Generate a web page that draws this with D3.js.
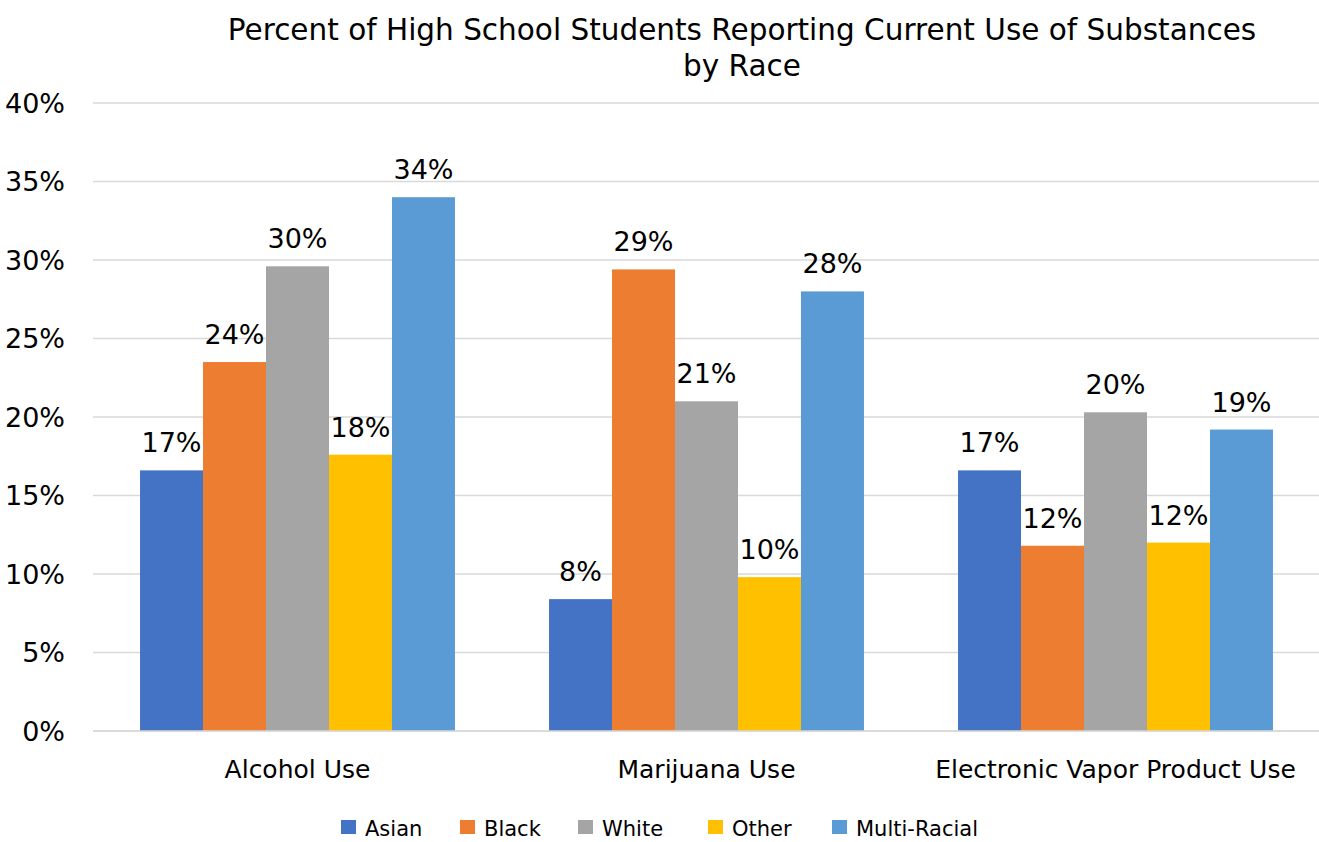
<!DOCTYPE html>
<html>
<head>
<meta charset="utf-8">
<script src="https://cdn.jsdelivr.net/npm/d3@7"></script>
<style>
  body { margin: 0; background: #fff; }
  svg text { font-family: "DejaVu Sans", sans-serif; fill: #000; }
</style>
</head>
<body>
<svg id="chart" width="1319" height="842"></svg>
<script>
// data
var categories = ['Alcohol Use', 'Marijuana Use', 'Electronic Vapor Product Use'];
var races = ['Asian', 'Black', 'White', 'Other', 'Multi-Racial'];
var asian = [16.6, 8.4, 16.6];
var black = [23.5, 29.4, 11.8];
var white = [29.6, 21.0, 20.3];
var other = [17.6, 9.8, 12.0];
var multi = [34.0, 28.0, 19.2];
var yTicks = [0, 5, 10, 15, 20, 25, 30, 35, 40];

var colors = ['#4472C4', '#ED7D31', '#A5A5A5', '#FFC000', '#5B9BD5'];
var seriesVals = [asian, black, white, other, multi];

const svg = d3.select('#chart');
const plotLeft = 93, plotRight = 1320, plotTop = 103, plotBottom = 731;

const x0 = d3.scaleBand().domain(categories).range([plotLeft, plotRight]).paddingInner(0.23).paddingOuter(0.115);
const x1 = d3.scaleBand().domain(races).range([0, x0.bandwidth()]);
const y = d3.scaleLinear().domain([0, 40]).range([plotBottom, plotTop]);
const color = d3.scaleOrdinal().domain(races).range(colors);

// title
svg.append('text')
   .attr('x', 742).attr('y', 40)
   .attr('text-anchor', 'middle')
   .attr('font-size', '29.5px')
   .text('Percent of High School Students Reporting Current Use of Substances');
svg.append('text')
   .attr('x', 742).attr('y', 76)
   .attr('text-anchor', 'middle')
   .attr('font-size', '29.5px')
   .text('by Race');

// gridlines
svg.append('g').selectAll('line')
   .data(yTicks)
   .enter().append('line')
   .attr('x1', plotLeft).attr('x2', plotRight)
   .attr('y1', d => y(d)).attr('y2', d => y(d))
   .attr('stroke', '#D9D9D9')
   .attr('stroke-width', 1.5);

// y axis labels
svg.append('g').selectAll('text')
   .data(yTicks)
   .enter().append('text')
   .attr('x', 65)
   .attr('y', d => y(d))
   .attr('dy', '0.37em')
   .attr('text-anchor', 'end')
   .attr('font-size', '27px')
   .text(d => d + '%');

// bars
var rows = [];
categories.forEach(function(c, i) {
  races.forEach(function(r, j) {
    rows.push({cat: c, race: r, val: seriesVals[j][i]});
  });
});

svg.append('g').selectAll('rect')
   .data(rows)
   .enter().append('rect')
   .attr('x', d => x0(d.cat) + x1(d.race))
   .attr('y', d => y(d.val))
   .attr('width', x1.bandwidth())
   .attr('height', d => plotBottom - y(d.val))
   .attr('fill', d => color(d.race));

// redraw baseline on top
svg.append('line')
   .attr('x1', plotLeft).attr('x2', plotRight)
   .attr('y1', y(0)).attr('y2', y(0))
   .attr('stroke', '#D9D9D9')
   .attr('stroke-width', 1.5);

// data labels
svg.append('g').selectAll('text')
   .data(rows)
   .enter().append('text')
   .attr('x', d => x0(d.cat) + x1(d.race) + x1.bandwidth() / 2)
   .attr('y', d => y(d.val) - 18)
   .attr('text-anchor', 'middle')
   .attr('font-size', '27px')
   .text(d => Math.round(d.val) + '%');

// category labels
svg.append('g').selectAll('text')
   .data(categories)
   .enter().append('text')
   .attr('x', d => x0(d) + x0.bandwidth() / 2)
   .attr('y', 778)
   .attr('text-anchor', 'middle')
   .attr('font-size', '25px')
   .text(d => d);

// legend
var legendX = [341, 460, 578, 708, 832];
var legend = svg.append('g').selectAll('g')
   .data(races)
   .enter().append('g')
   .attr('transform', (d, i) => 'translate(' + legendX[i] + ',0)');
legend.append('rect')
   .attr('x', 0).attr('y', 820)
   .attr('width', 15).attr('height', 14)
   .attr('fill', d => color(d));
legend.append('text')
   .attr('x', 24).attr('y', 836)
   .attr('font-size', '21px')
   .text(d => d);
</script>
</body>
</html>
